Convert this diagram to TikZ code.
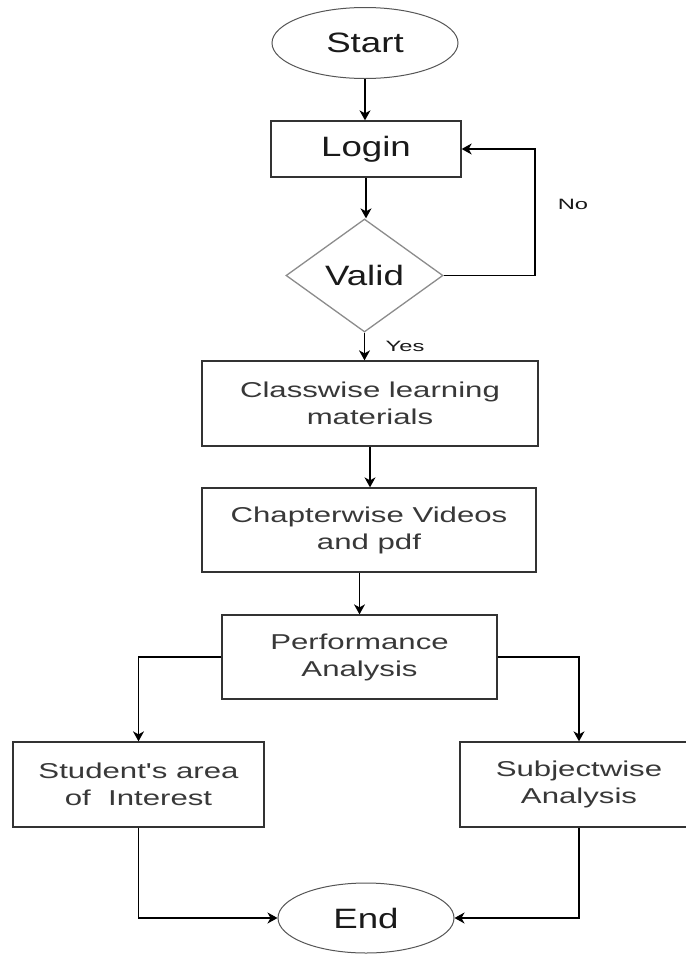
\documentclass[tikz,border=0pt]{standalone}
\usepackage{fontspec}
\setmainfont{Liberation Sans}
\newfontfamily\bigfont{Liberation Sans}[FakeStretch=1.31]
\newfontfamily\boxfont{Liberation Sans}[FakeStretch=1.45, Ligatures=TeXOff]
\newfontfamily\smallfont{Liberation Sans}[FakeStretch=1.58]
\usetikzlibrary{shapes.geometric,arrows.meta,calc}
\definecolor{boxline}{HTML}{333333}
\definecolor{txt}{HTML}{383838}
\definecolor{darktxt}{HTML}{1A1A1A}
\definecolor{diamline}{HTML}{8C8C8C}
\definecolor{ellline}{HTML}{555555}
\tikzset{
  x=1pt, y=-1pt,
  procbox/.style={draw=boxline, line width=1.3pt, rectangle, inner sep=0pt,
    align=center, text=txt, font=\boxfont\fontsize{21.5}{27}\selectfont},
  termnode/.style={draw=ellline, line width=1pt, ellipse, inner sep=0pt,
    minimum width=186pt, minimum height=71pt, text=darktxt,
    font=\bigfont\fontsize{28}{32}\selectfont},
  decnode/.style={draw=diamline, line width=1.3pt, diamond, inner sep=0pt,
    aspect=1.39, minimum width=157pt, minimum height=113pt, text=darktxt,
    font=\bigfont\fontsize{28}{32}\selectfont},
  arr/.style={draw=black, line width=1.3pt,
    -{Stealth[length=10pt,width=11pt,inset=3pt]}},
  lbl/.style={text=darktxt, font=\smallfont\fontsize{15}{18}\selectfont, inner sep=0pt}
}
\begin{document}
\begin{tikzpicture}
\useasboundingbox (0,0) rectangle (686,954);
\fill[white] (0,0) rectangle (686,954);

\node[termnode] (start) at (365,43) {Start};
\node[procbox, minimum width=190pt, minimum height=56pt,
      font=\bigfont\fontsize{28}{32}\selectfont, text=darktxt] (login) at (366,149) {Login};
\node[decnode] (valid) at (364.5,275.5) {Valid};
\node[procbox, minimum width=336pt, minimum height=85pt] (class) at (370,403.5)
  {Classwise learning\\materials};
\node[procbox, minimum width=334pt, minimum height=84pt] (chap) at (369,530)
  {Chapterwise Videos\\and pdf};
\node[procbox, minimum width=275pt, minimum height=84pt] (perf) at (359.5,657)
  {Performance\\Analysis};
\node[procbox, minimum width=251pt, minimum height=85pt] (stud) at (138.5,784.5)
  {Student's area\\of\ \ Interest};
\node[procbox, minimum width=238pt, minimum height=85pt] (subj) at (579,784.5)
  {Subjectwise\\Analysis};
\node[termnode, minimum width=176pt, minimum height=70pt] (end) at (366,918) {End};

\coordinate (loopc) at (535,275.5);
\node[lbl] (no) at (573,204) {No};
\node[lbl] (yes) at (405,346) {Yes};

\draw[arr] (start.south) -- (start.south |- login.north);
\draw[arr] (login.south) -- (login.south |- valid.north);
\draw[arr] (valid.east) -- (loopc) |- (login.east);
\draw[arr] (valid.south) -- (valid.south |- class.north);
\draw[arr] (class.south) -- (class.south |- chap.north);
\draw[arr] (chap.south -| perf.north) -- (perf.north);
\draw[arr] (perf.west) -| (stud.north);
\draw[arr] (perf.east) -| (subj.north);
\draw[arr] (stud.south) |- (end.west);
\draw[arr] (subj.south) |- (end.east);
\end{tikzpicture}
\end{document}
